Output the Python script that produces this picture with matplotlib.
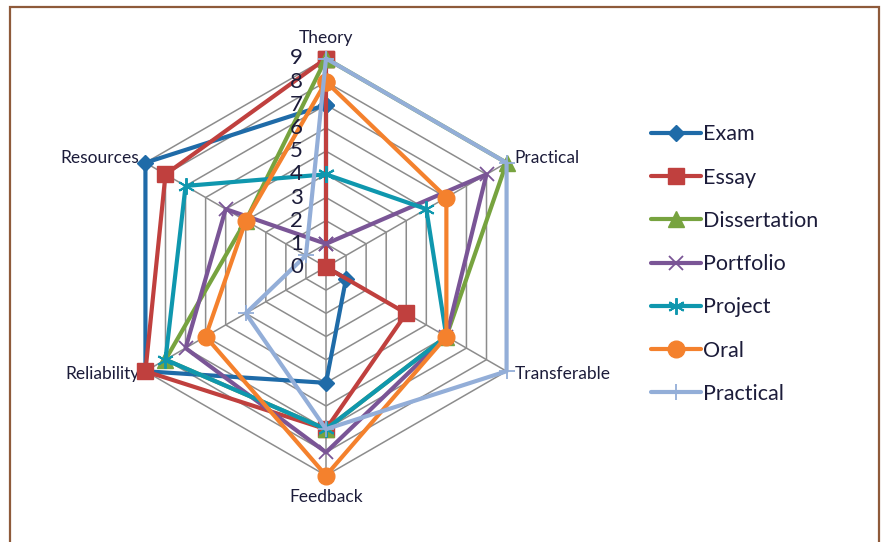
import numpy as np
import matplotlib
matplotlib.use("Agg")
import matplotlib.pyplot as plt
from matplotlib.patches import Rectangle

plt.rcParams['font.family'] = ['Lato', 'DejaVu Sans']

# Assessment criteria (clockwise from the top)
criteria = ["Theory", "Practical", "Transferable", "Feedback", "Reliability", "Resources"]
scale_ticks = list(range(0, 10))

# Scores per assessment method
exam = [7, 0, 1, 5, 9, 9]
essay = [9, 0, 4, 7, 9, 8]
dissertation = [9, 9, 6, 7, 8, 4]
portfolio = [1, 8, 6, 8, 7, 5]
project = [4, 5, 6, 7, 8, 7]
oral = [8, 6, 6, 9, 6, 4]
practical = [9, 9, 9, 7, 4, 1]

series_names = ["Exam", "Essay", "Dissertation", "Portfolio", "Project", "Oral", "Practical"]
series_values = [exam, essay, dissertation, portfolio, project, oral, practical]

styles = [
    dict(color="#1F6BA8", marker="D", ms=8, mew=1),
    dict(color="#C0403E", marker="s", ms=11, mew=1),
    dict(color="#77A33F", marker="^", ms=12, mew=1),
    dict(color="#7A5596", marker="x", ms=10, mew=1.3),
    dict(color="#0F97AE", marker=(6, 2, 0), ms=12, mew=1.4),
    dict(color="#F4812D", marker="o", ms=12, mew=1),
    dict(color="#93AED8", marker="+", ms=12, mew=1.3),
]

W, H = 885, 542
fig = plt.figure(figsize=(W / 100, H / 100), dpi=100)

# chart border
fig.add_artist(Rectangle((10 / W, -0.02), 869 / W, (H - 7) / H + 0.02,
                         transform=fig.transFigure, fill=False,
                         edgecolor="#8E5A3A", lw=1.6))

cx, cy, R = 326, H - 267, 208.5
ax = fig.add_axes([(cx - R) / W, (cy - R) / H, 2 * R / W, 2 * R / H], projection="polar")
ax.set_theta_offset(np.pi / 2)
ax.set_theta_direction(-1)
ax.set_ylim(0, 9)
ax.grid(False)
ax.spines["polar"].set_visible(False)
ax.set_xticks([])
ax.set_yticks([])
ax.patch.set_alpha(0)

n = len(criteria)
angles = np.linspace(0, 2 * np.pi, n, endpoint=False)
closed = np.append(angles, angles[0])

grid_color = "#8C8C8C"
for r in scale_ticks[1:]:
    ax.plot(closed, [r] * (n + 1), color=grid_color, lw=1.1, zorder=1)
for a in angles:
    ax.plot([a, a], [0, scale_ticks[-1]], color=grid_color, lw=1.1, zorder=1)

text_color = "#1C1C3A"
for t in scale_ticks:
    ax.annotate(str(t), xy=(0, t), xytext=(-23, 0), textcoords="offset pixels",
                ha="right", va="center", fontsize=16, color=text_color, zorder=5)

# category labels around the outer ring
label_pos = [
    (0, 20, "center", "center"),
    (8, 5, "left", "center"),
    (8, -3, "left", "center"),
    (0, -21, "center", "center"),
    (-6, -3, "right", "center"),
    (-6, 5, "right", "center"),
]
for a, name, (dx, dy, ha, va) in zip(angles, criteria, label_pos):
    ax.annotate(name, xy=(a, 9), xytext=(dx, dy), textcoords="offset pixels",
                ha=ha, va=va, fontsize=12.5, color=text_color, annotation_clip=False)

handles = []
for name, vals, st in zip(series_names, series_values, styles):
    v = np.append(vals, vals[0])
    ln, = ax.plot(closed, v, color=st["color"], lw=3, marker=st["marker"],
                  ms=st["ms"], mew=st["mew"], mec=st["color"], mfc=st["color"],
                  solid_capstyle="round", solid_joinstyle="round",
                  label=name, zorder=3, clip_on=False)
    handles.append(ln)

fig.legend(handles=handles, loc="upper left",
           bbox_to_anchor=(632 / W, 1 - 105 / H), frameon=False,
           fontsize=15.5, handlelength=2.3, handletextpad=0.12,
           labelspacing=1.08, numpoints=1, labelcolor=text_color)

fig.savefig("out.png", dpi=100, facecolor="white")
